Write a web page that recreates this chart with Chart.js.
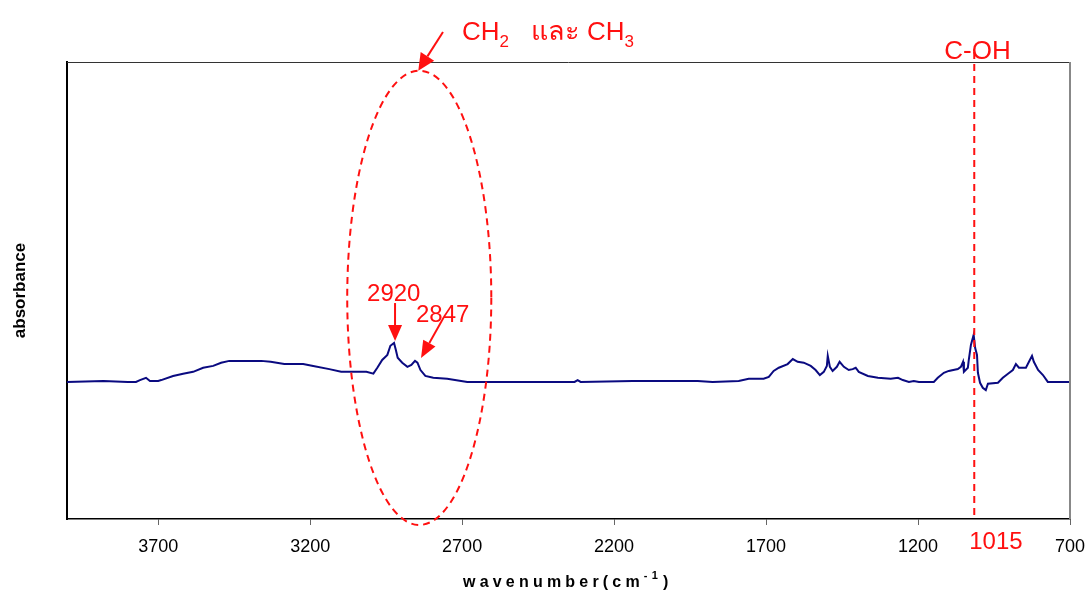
<!DOCTYPE html>
<html>
<head>
<meta charset="utf-8">
<script src="https://cdn.jsdelivr.net/npm/chart.js@4/dist/chart.umd.min.js"></script>
<style>
  html, body { margin: 0; padding: 0; background: #fff; }
  canvas { display: block; }
</style>
</head>
<body>
<canvas id="ir" width="1088" height="592"></canvas>
<script>
// ---- data ----
var wavenumber = [4000, 3880, 3800, 3773, 3760, 3740, 3727, 3700, 3690, 3651, 3618, 3585, 3552, 3519, 3493, 3466,
  3361, 3330, 3285, 3223, 3190, 3137, 3098, 3015, 2992, 2979, 2963, 2946, 2936, 2924, 2918, 2912, 2897, 2880,
  2867, 2855, 2847, 2837, 2821, 2795, 2749, 2683, 2330, 2320, 2310, 2139, 2047, 1925, 1876, 1790, 1757, 1708,
  1691, 1675, 1658, 1629, 1612, 1596, 1576, 1553, 1537, 1523, 1510, 1500, 1497, 1490, 1481, 1467, 1458, 1444,
  1428, 1415, 1405, 1395, 1365, 1332, 1290, 1266, 1250, 1230, 1214, 1197, 1190, 1148, 1135, 1115, 1099, 1069,
  1059, 1052, 1049, 1036, 1033, 1026, 1017, 1012, 1006, 1003, 996, 987, 977, 970, 937, 921, 904, 888, 878, 868,
  845, 835, 825, 819, 805, 789, 773, 700];
var absorbance = [0, 0.002, 0, 0, 0.004, 0.009, 0.002, 0.002, 0.004, 0.013, 0.018, 0.022, 0.031, 0.035, 0.042, 0.046,
  0.046, 0.044, 0.039, 0.039, 0.035, 0.028, 0.022, 0.022, 0.018, 0.031, 0.048, 0.059, 0.079, 0.085, 0.070, 0.053, 0.042, 0.033,
  0.037, 0.046, 0.042, 0.026, 0.013, 0.009, 0.007, 0, 0, 0.004, 0, 0.002, 0.002, 0.002, 0, 0.002, 0.007, 0.007,
  0.011, 0.024, 0.031, 0.039, 0.050, 0.044, 0.042, 0.035, 0.026, 0.015, 0.022, 0.035, 0.057, 0.033, 0.024, 0.033, 0.044, 0.033,
  0.026, 0.028, 0.031, 0.022, 0.013, 0.009, 0.007, 0.009, 0.004, 0, 0.002, 0, 0, 0, 0.009, 0.020, 0.024, 0.028,
  0.033, 0.044, 0.022, 0.031, 0.048, 0.081, 0.103, 0.074, 0.059, 0.020, -0.002, -0.013, -0.018, -0.004, -0.002, 0.009, 0.018, 0.026, 0.039, 0.031,
  0.031, 0.044, 0.057, 0.044, 0.026, 0.015, 0, 0];
var xTicks = [3700, 3200, 2700, 2200, 1700, 1200, 700];

// annotations
var peakLabels = ['2920', '2847'];
var peakAt = [2924, 2855];
var ellipseCenter = [2841, 0.184];   // wavenumber, absorbance
var ellipseRadius = [237, 0.497];
var cohAt = 1015;

var RED = '#ff1010';
var FONT = '"Liberation Sans", Arial, "Noto Sans", sans-serif';

function arrow(ctx, x1, y1, x2, y2, head, half) {
  var a = Math.atan2(y2 - y1, x2 - x1);
  var bx = x2 - head * Math.cos(a), by = y2 - head * Math.sin(a);
  ctx.beginPath(); ctx.moveTo(x1, y1); ctx.lineTo(bx, by); ctx.stroke();
  ctx.beginPath();
  ctx.moveTo(x2, y2);
  ctx.lineTo(bx + half * Math.sin(a), by - half * Math.cos(a));
  ctx.lineTo(bx - half * Math.sin(a), by + half * Math.cos(a));
  ctx.closePath(); ctx.fill();
}

// text made of pieces: [text, size, dy, bold]
function parts(ctx, list, x, y) {
  list.forEach(function (p) {
    ctx.font = (p[3] ? 'bold ' : '') + p[1] + 'px ' + FONT;
    ctx.fillText(p[0], x, y + p[2]);
    x += ctx.measureText(p[0]).width;
  });
}

var annotate = {
  id: 'annotate',
  afterDraw: function (chart) {
    var ctx = chart.ctx, xs = chart.scales.x, ys = chart.scales.y, ca = chart.chartArea;
    ctx.save();
    // frame top + right
    ctx.strokeStyle = '#333'; ctx.lineWidth = 1;
    ctx.beginPath(); ctx.moveTo(ca.left, ca.top + 0.5); ctx.lineTo(ca.right, ca.top + 0.5); ctx.stroke();
    ctx.strokeStyle = '#888'; ctx.lineWidth = 2;
    ctx.beginPath(); ctx.moveTo(ca.right, ca.top); ctx.lineTo(ca.right, ca.bottom); ctx.stroke();

    ctx.strokeStyle = RED; ctx.fillStyle = RED; ctx.lineWidth = 2;
    ctx.textBaseline = 'alphabetic';

    // dashed ellipse round the CH stretch peaks
    var cx = xs.getPixelForValue(ellipseCenter[0]), cy = ys.getPixelForValue(ellipseCenter[1]);
    var rx = Math.abs(xs.getPixelForValue(ellipseCenter[0] - ellipseRadius[0]) - cx);
    var ry = Math.abs(ys.getPixelForValue(ellipseCenter[1] + ellipseRadius[1]) - cy);
    ctx.setLineDash([7, 5]);
    ctx.beginPath(); ctx.ellipse(cx, cy, rx, ry, 0, 0, Math.PI * 2); ctx.stroke();

    // C-OH dashed line
    var lx = xs.getPixelForValue(cohAt);
    ctx.beginPath(); ctx.moveTo(lx, 52); ctx.lineTo(lx, ca.bottom); ctx.stroke();
    ctx.setLineDash([]);

    ctx.font = '26px ' + FONT;
    ctx.fillText('C-OH', lx - 30, 59);
    ctx.font = '24px ' + FONT;
    ctx.fillText(String(cohAt), lx - 5, 549);

    // CH2 และ CH3 + arrow to ellipse top
    parts(ctx, [['CH', 26, 0], ['2', 17, 7], ['   ', 26, 0], ['และ', 27, 0], [' CH', 26, 0], ['3', 17, 7]], 462, 40);
    arrow(ctx, 443, 32, cx - 1, cy - ry, 17, 8);

    // peak labels
    var p1x = xs.getPixelForValue(peakAt[0]), p1y = ys.getPixelForValue(absorbance[wavenumber.indexOf(peakAt[0])]);
    var p2x = xs.getPixelForValue(peakAt[1]), p2y = ys.getPixelForValue(absorbance[wavenumber.indexOf(peakAt[1])]);
    ctx.font = '24px ' + FONT;
    ctx.fillText(peakLabels[0], p1x - 27, p1y - 42);
    ctx.fillText(peakLabels[1], p2x + 1, p2y - 39);
    arrow(ctx, p1x + 1, p1y - 40, p1x + 1, p1y - 2, 16, 7);
    arrow(ctx, p2x + 29, p2y - 44, p2x + 6, p2y - 3, 17, 7);

    // x axis title with spaced letters + superscript
    ctx.fillStyle = '#000';
    ctx.letterSpacing = '4.2px';
    parts(ctx, [['wavenumber(cm', 16, 0, true], ['-1', 11, -8, true]], 463, 587);
    ctx.letterSpacing = '0px';
    ctx.font = 'bold 16px ' + FONT;
    ctx.fillText(')', 663, 587);
    ctx.restore();
  }
};

new Chart(document.getElementById('ir'), {
  type: 'line',
  data: {
    datasets: [{
      data: wavenumber.map(function (w, i) { return { x: w, y: absorbance[i] }; }),
      borderColor: '#0a0a80',
      borderWidth: 2,
      pointRadius: 0,
      tension: 0,
      fill: false
    }]
  },
  options: {
    responsive: false,
    animation: false,
    devicePixelRatio: 1,
    layout: { padding: { top: 62, right: 18, left: 0, bottom: 0 } },
    plugins: { legend: { display: false }, tooltip: { enabled: false } },
    scales: {
      x: {
        type: 'linear', reverse: true, min: 700, max: 4000,
        afterBuildTicks: function (s) { s.ticks = xTicks.map(function (v) { return { value: v }; }); },
        afterFit: function (s) { s.height = 73; s.paddingLeft = 0; s.paddingRight = 0; },
        ticks: { autoSkip: false, maxRotation: 0, padding: 11, color: '#000', font: { family: FONT, size: 18 },
          callback: function (v) { return String(v); } },
        grid: { drawOnChartArea: false, drawTicks: true, tickLength: 6, color: '#666' },
        border: { color: '#000', width: 1.5 }
      },
      y: {
        min: -0.3, max: 0.7,
        afterFit: function (s) { s.width = 67; },
        ticks: { display: false },
        grid: { display: false, drawTicks: false },
        border: { color: '#000', width: 2 },
        title: { display: true, text: 'absorbance', color: '#000', padding: { top: 10, bottom: 0 },
          font: { family: FONT, size: 17, weight: 'bold' } }
      }
    }
  },
  plugins: [annotate]
});
</script>
</body>
</html>
